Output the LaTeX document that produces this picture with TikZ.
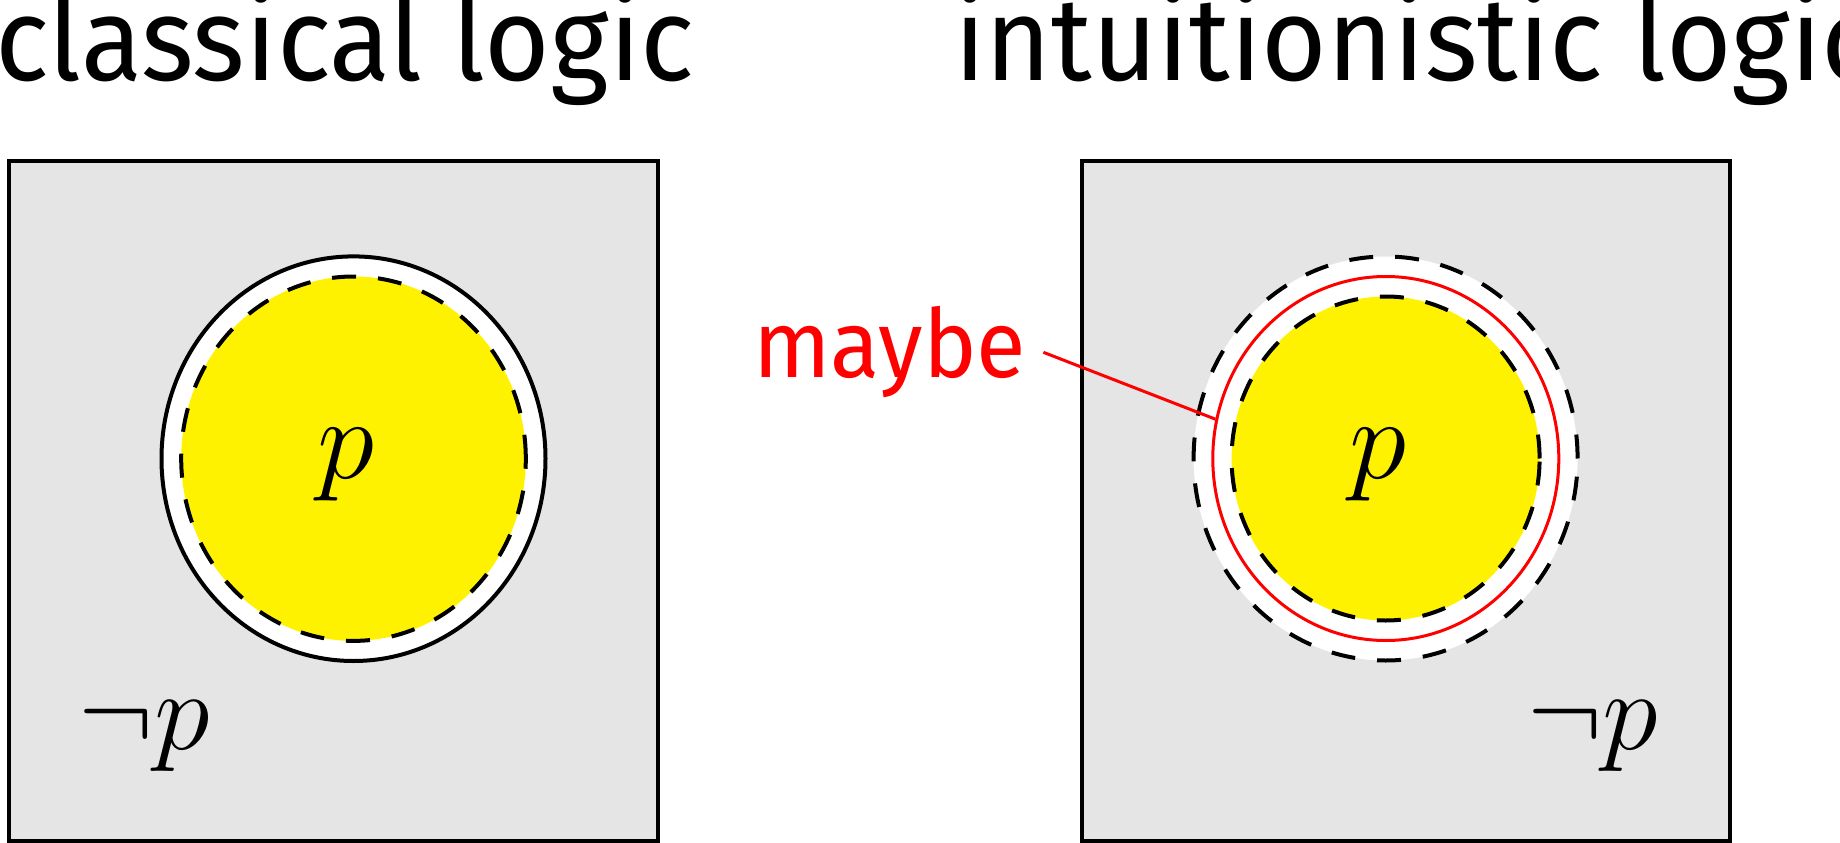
\documentclass[tikz,border=0pt]{standalone}
\usepackage{fix-cm}
\usepackage{fontspec}
\newfontfamily\titlefont{Fira Sans}
\usetikzlibrary{shapes.geometric}
\newcommand{\narrowtext}[1]{\scalebox{0.953}[1]{#1}}
\tikzset{
  panel/.style={draw=black, line width=4pt, fill=black!10, minimum width=648.4pt, minimum height=680pt, inner sep=0pt},
  blob/.style={ellipse, inner sep=0pt},
  dashline/.style={draw=black, dash pattern=on 24pt off 22pt, line width=4pt},
  solidline/.style={draw=black, line width=4pt},
  redline/.style={draw=red, line width=3pt},
  title/.style={font=\titlefont\fontsize{118}{120}\selectfont, inner sep=0pt, anchor=base west},
  prop/.style={font=\fontsize{116}{116}\selectfont, inner sep=0pt, anchor=base},
  negp/.style={font=\fontsize{113}{113}\selectfont, inner sep=0pt, anchor=base west},
  maybelabel/.style={font=\titlefont\fontsize{95}{100}\selectfont, text=red, anchor=east, inner xsep=17pt, inner ysep=0pt},
}
\begin{document}
\begin{tikzpicture}[x=1pt,y=-1pt]
\useasboundingbox (0,0) rectangle (1840,843);
% titles
\node[title] (tl) at (-5,81) {\narrowtext{classical logic}};
\node[title] (tr) at (954,81) {\narrowtext{intuitionistic logic}};
% classical panel
\node[panel] (lbox) at (333.5,501) {};
\node[blob, solidline, fill=white, minimum width=384pt, minimum height=404.6pt] (louter) at (353.5,458.7) {};
\node[blob, dashline, fill=yellow, minimum width=344.6pt, minimum height=364.4pt] (linner) at (353.5,458.7) {};
\node[prop] (lp) at (346.3,478.5) {$p$};
\node[negp] (lnp) at (78.7,749.8) {$\neg p$};
% intuitionistic panel
\node[panel] (rbox) at (1405.85,501) {};
\node[blob, dashline, fill=white, minimum width=384pt, minimum height=404pt] (router) at (1385.6,458.5) {};
\node[blob, redline, minimum width=346pt, minimum height=364pt] (rred) at (1385.8,458.5) {};
\node[blob, dashline, fill=yellow, minimum width=308pt, minimum height=324pt] (rinner) at (1385.6,458.5) {};
\node[prop] (rp) at (1378.2,478.5) {$p$};
\node[negp] (rnp) at (1527,749.8) {$\neg p$};
% maybe label
\node[maybelabel] (maybe) at (1043.4,352.3) {\narrowtext{maybe}};
\draw[redline] (maybe.east) -- (rred.167.5);
\end{tikzpicture}
\end{document}
